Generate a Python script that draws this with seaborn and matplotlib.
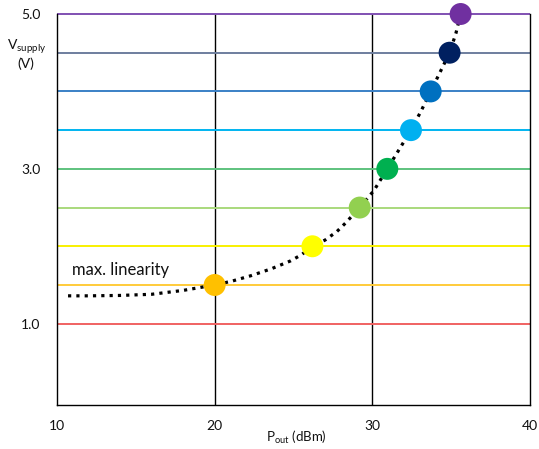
import matplotlib
matplotlib.use("Agg")
import matplotlib.pyplot as plt
import seaborn as sns
import pandas as pd

# Supply voltage levels and their colours
supply_levels = [1.0, 1.5, 2.0, 2.5, 3.0, 3.5, 4.0, 4.5, 5.0]
level_colors = ["#F06262", "#FFCB3A", "#F8F000", "#A9D97C", "#5EC27E",
                "#00B4F0", "#3A80C6", "#6E7E9E", "#8050B2"]

# Operating points (output power, supply voltage) and their colours
point_pout = [20.0, 26.2, 29.2, 30.95, 32.45, 33.7, 34.9, 35.6]
point_vsupply = [1.5, 2.0, 2.5, 3.0, 3.5, 4.0, 4.5, 5.0]
point_colors = ["#FFC000", "#FFFF00", "#92D050", "#00B050",
                "#00B0F0", "#0070C0", "#002060", "#7030A0"]

# Max-linearity trajectory
curve_pout = [10.7, 12.0, 14.0, 16.0, 18.0, 20.0, 21.1, 22.3, 23.6, 24.8,
              25.5, 26.2, 27.0, 27.75, 28.3, 29.2, 30.1, 30.95, 31.7,
              32.45, 33.1, 33.7, 34.3, 34.9, 35.3, 35.6]
curve_vsupply = [1.36, 1.36, 1.365, 1.38, 1.43, 1.5, 1.55, 1.62, 1.71, 1.81,
                 1.89, 2.0, 2.08, 2.19, 2.30, 2.5, 2.72, 3.0, 3.25,
                 3.5, 3.75, 4.0, 4.25, 4.5, 4.75, 5.0]

x_ticks = [10, 20, 30, 40]
y_ticks = [1.0, 3.0, 5.0]

sns.set_theme(style="white")
plt.rcParams["font.family"] = ["Lato", "DejaVu Sans"]
plt.rcParams["mathtext.fontset"] = "custom"
plt.rcParams["mathtext.rm"] = "Lato"
plt.rcParams["mathtext.it"] = "Lato:italic"

fig = plt.figure(figsize=(5.39, 4.49), dpi=100)
ax = fig.add_axes([57 / 539, 44 / 449, 473 / 539, 391 / 449])

# Horizontal supply-level lines
ax.hlines(supply_levels, 10, 40, colors=level_colors, linewidth=1.4,
          zorder=2, clip_on=False)

# Vertical grid lines
for xv in x_ticks[1:3]:
    ax.axvline(xv, color="black", linewidth=1.0, zorder=1)

curve_df = pd.DataFrame({"pout": curve_pout, "vsupply": curve_vsupply})
sns.lineplot(data=curve_df, x="pout", y="vsupply", ax=ax, sort=False,
             color="black", linewidth=2.3, linestyle=(0, (1, 1.6)),
             zorder=3, estimator=None)

pts_df = pd.DataFrame({"pout": point_pout, "vsupply": point_vsupply,
                       "c": point_colors})
sns.scatterplot(data=pts_df, x="pout", y="vsupply", hue="c",
                palette={c: c for c in point_colors}, s=250,
                edgecolor="none", linewidth=0, ax=ax, legend=False,
                zorder=4, clip_on=False)

ax.text(10.95, 1.70, "max. linearity", fontsize=12, ha="left", va="center",
        color="#111111", zorder=5)

ax.set_xlim(10, 40)
ax.set_ylim(-0.05, 5.0)
ax.set_xticks(x_ticks)
ax.set_yticks(y_ticks)
ax.set_yticklabels([f"{v:.1f}" for v in y_ticks])
ax.tick_params(axis="both", length=0, labelsize=10, colors="#111111")
ax.tick_params(axis="x", pad=11)
ax.tick_params(axis="y", pad=12)
ax.set_xlabel("")
ax.set_ylabel("")

for side in ["left", "bottom", "right"]:
    ax.spines[side].set_visible(True)
    ax.spines[side].set_color("black")
    ax.spines[side].set_linewidth(1.0)
ax.spines["top"].set_visible(False)

fig.text(27 / 539, 1 - 47 / 449, r"V$_{\mathrm{supply}}$", fontsize=10,
         ha="center", va="center", color="#111111")
fig.text(26 / 539, 1 - 64 / 449, "(V)", fontsize=10,
         ha="center", va="center", color="#111111")
fig.text(296 / 539, 1 - 437 / 449, r"P$_{\mathrm{out}}$ (dBm)", fontsize=9.5,
         ha="center", va="center", color="#111111")

fig.savefig("out.png", dpi=100)
